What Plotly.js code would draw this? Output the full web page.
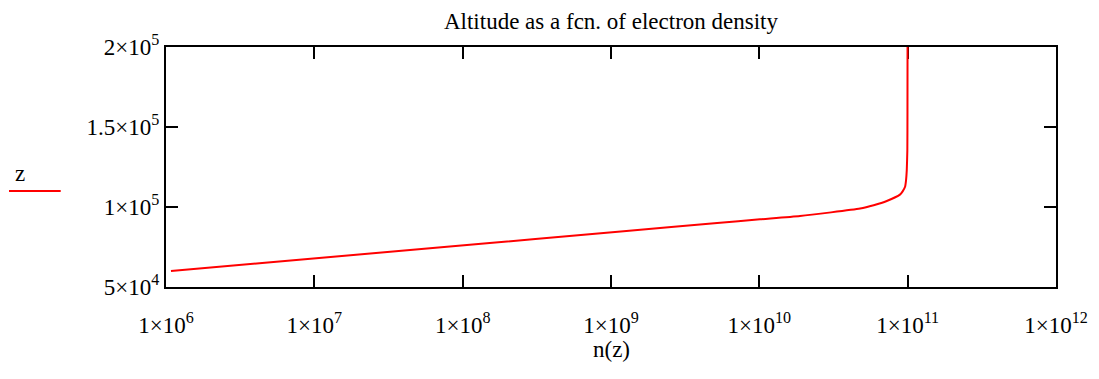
<!DOCTYPE html>
<html>
<head>
<meta charset="utf-8">
<script src="https://cdn.plot.ly/plotly-3.0.1.min.js"></script>
<style>html,body{margin:0;padding:0;background:#fff;}#chart{width:1099px;height:379px;}</style>
</head>
<body>
<div id="chart"></div>
<script>
// Electron density n(z) [x] and altitude z [y]
const electronDensity = [1.08e6, 4.45e6, 1.83e7, 7.5e7, 3.09e8, 1.27e9, 5.2e9, 1.01e10, 1.88e10, 4.78e10, 5.9e10, 7.23e10, 8.87e10, 9.25e10, 9.59e10, 9.75e10, 9.86e10, 9.95e10, 9.97e10, 9.98e10];
const altitude        = [60000, 65000, 70000, 75000, 80000, 85000, 90000, 92300, 94400, 99000, 101100, 103750, 107750, 109800, 112500, 116700, 122900, 135400, 160000, 200000];

const xTickVals = [1e6, 1e7, 1e8, 1e9, 1e10, 1e11, 1e12];
const xTickText = ['1×10<sup>6</sup>', '1×10<sup>7</sup>', '1×10<sup>8</sup>', '1×10<sup>9</sup>', '1×10<sup>10</sup>', '1×10<sup>11</sup>', '1×10<sup>12</sup>'];
const yTickVals = [50000, 100000, 150000, 200000];
const yTickText = ['5×10<sup>4</sup>', '1×10<sup>5</sup>', '1.5×10<sup>5</sup>', '2×10<sup>5</sup>'];

const chartTitle = 'Altitude as a fcn. of electron density';
const xTitle = 'n(z)';
const seriesName = 'z';

const font = {family: '"Liberation Serif", "Times New Roman", serif', size: 23, color: '#000'};

const trace = {
  x: electronDensity, y: altitude, mode: 'lines', name: seriesName,
  line: {color: '#ff0000', width: 2, shape: 'spline', smoothing: 0.5},
  showlegend: false, hoverinfo: 'none', cliponaxis: false
};

const axisCommon = {
  showgrid: false, zeroline: false, showline: true, linecolor: '#000', linewidth: 2,
  mirror: 'ticks', ticks: 'inside', ticklen: 12, tickwidth: 2, tickcolor: '#000',
  tickfont: font, layer: 'below traces'
};

const layout = {
  width: 1099, height: 379,
  margin: {l: 166, r: 43, t: 47, b: 92, pad: 0},
  paper_bgcolor: '#fff', plot_bgcolor: '#fff',
  font: font,
  title: {text: chartTitle, font: font, x: 0.5, xref: 'paper', y: 1, yref: 'paper', yanchor: 'bottom', pad: {b: 18}},
  xaxis: Object.assign({}, axisCommon, {
    type: 'log', range: [6, 12], tickvals: xTickVals, ticktext: xTickText,
    ticklabelstandoff: 16
  }),
  yaxis: Object.assign({}, axisCommon, {
    range: [50000, 200000], tickvals: yTickVals, ticktext: yTickText,
    ticklabelstandoff: 0
  }),
  shapes: [{type: 'line', xref: 'paper', yref: 'paper', x0: -0.1764, x1: -0.1183, y0: 0.4, y1: 0.4, line: {color: '#ff0000', width: 2}}],
  annotations: [
    {text: seriesName, xref: 'paper', yref: 'paper', x: -0.1646, y: 0.474, showarrow: false, font: font, xanchor: 'center', yanchor: 'middle'},
    {text: xTitle, xref: 'paper', yref: 'paper', x: 0.5, y: -0.262, showarrow: false, font: font, xanchor: 'center', yanchor: 'middle'}
  ]
};

Plotly.newPlot('chart', [trace], layout, {staticPlot: true, displayModeBar: false});
</script>
</body>
</html>
